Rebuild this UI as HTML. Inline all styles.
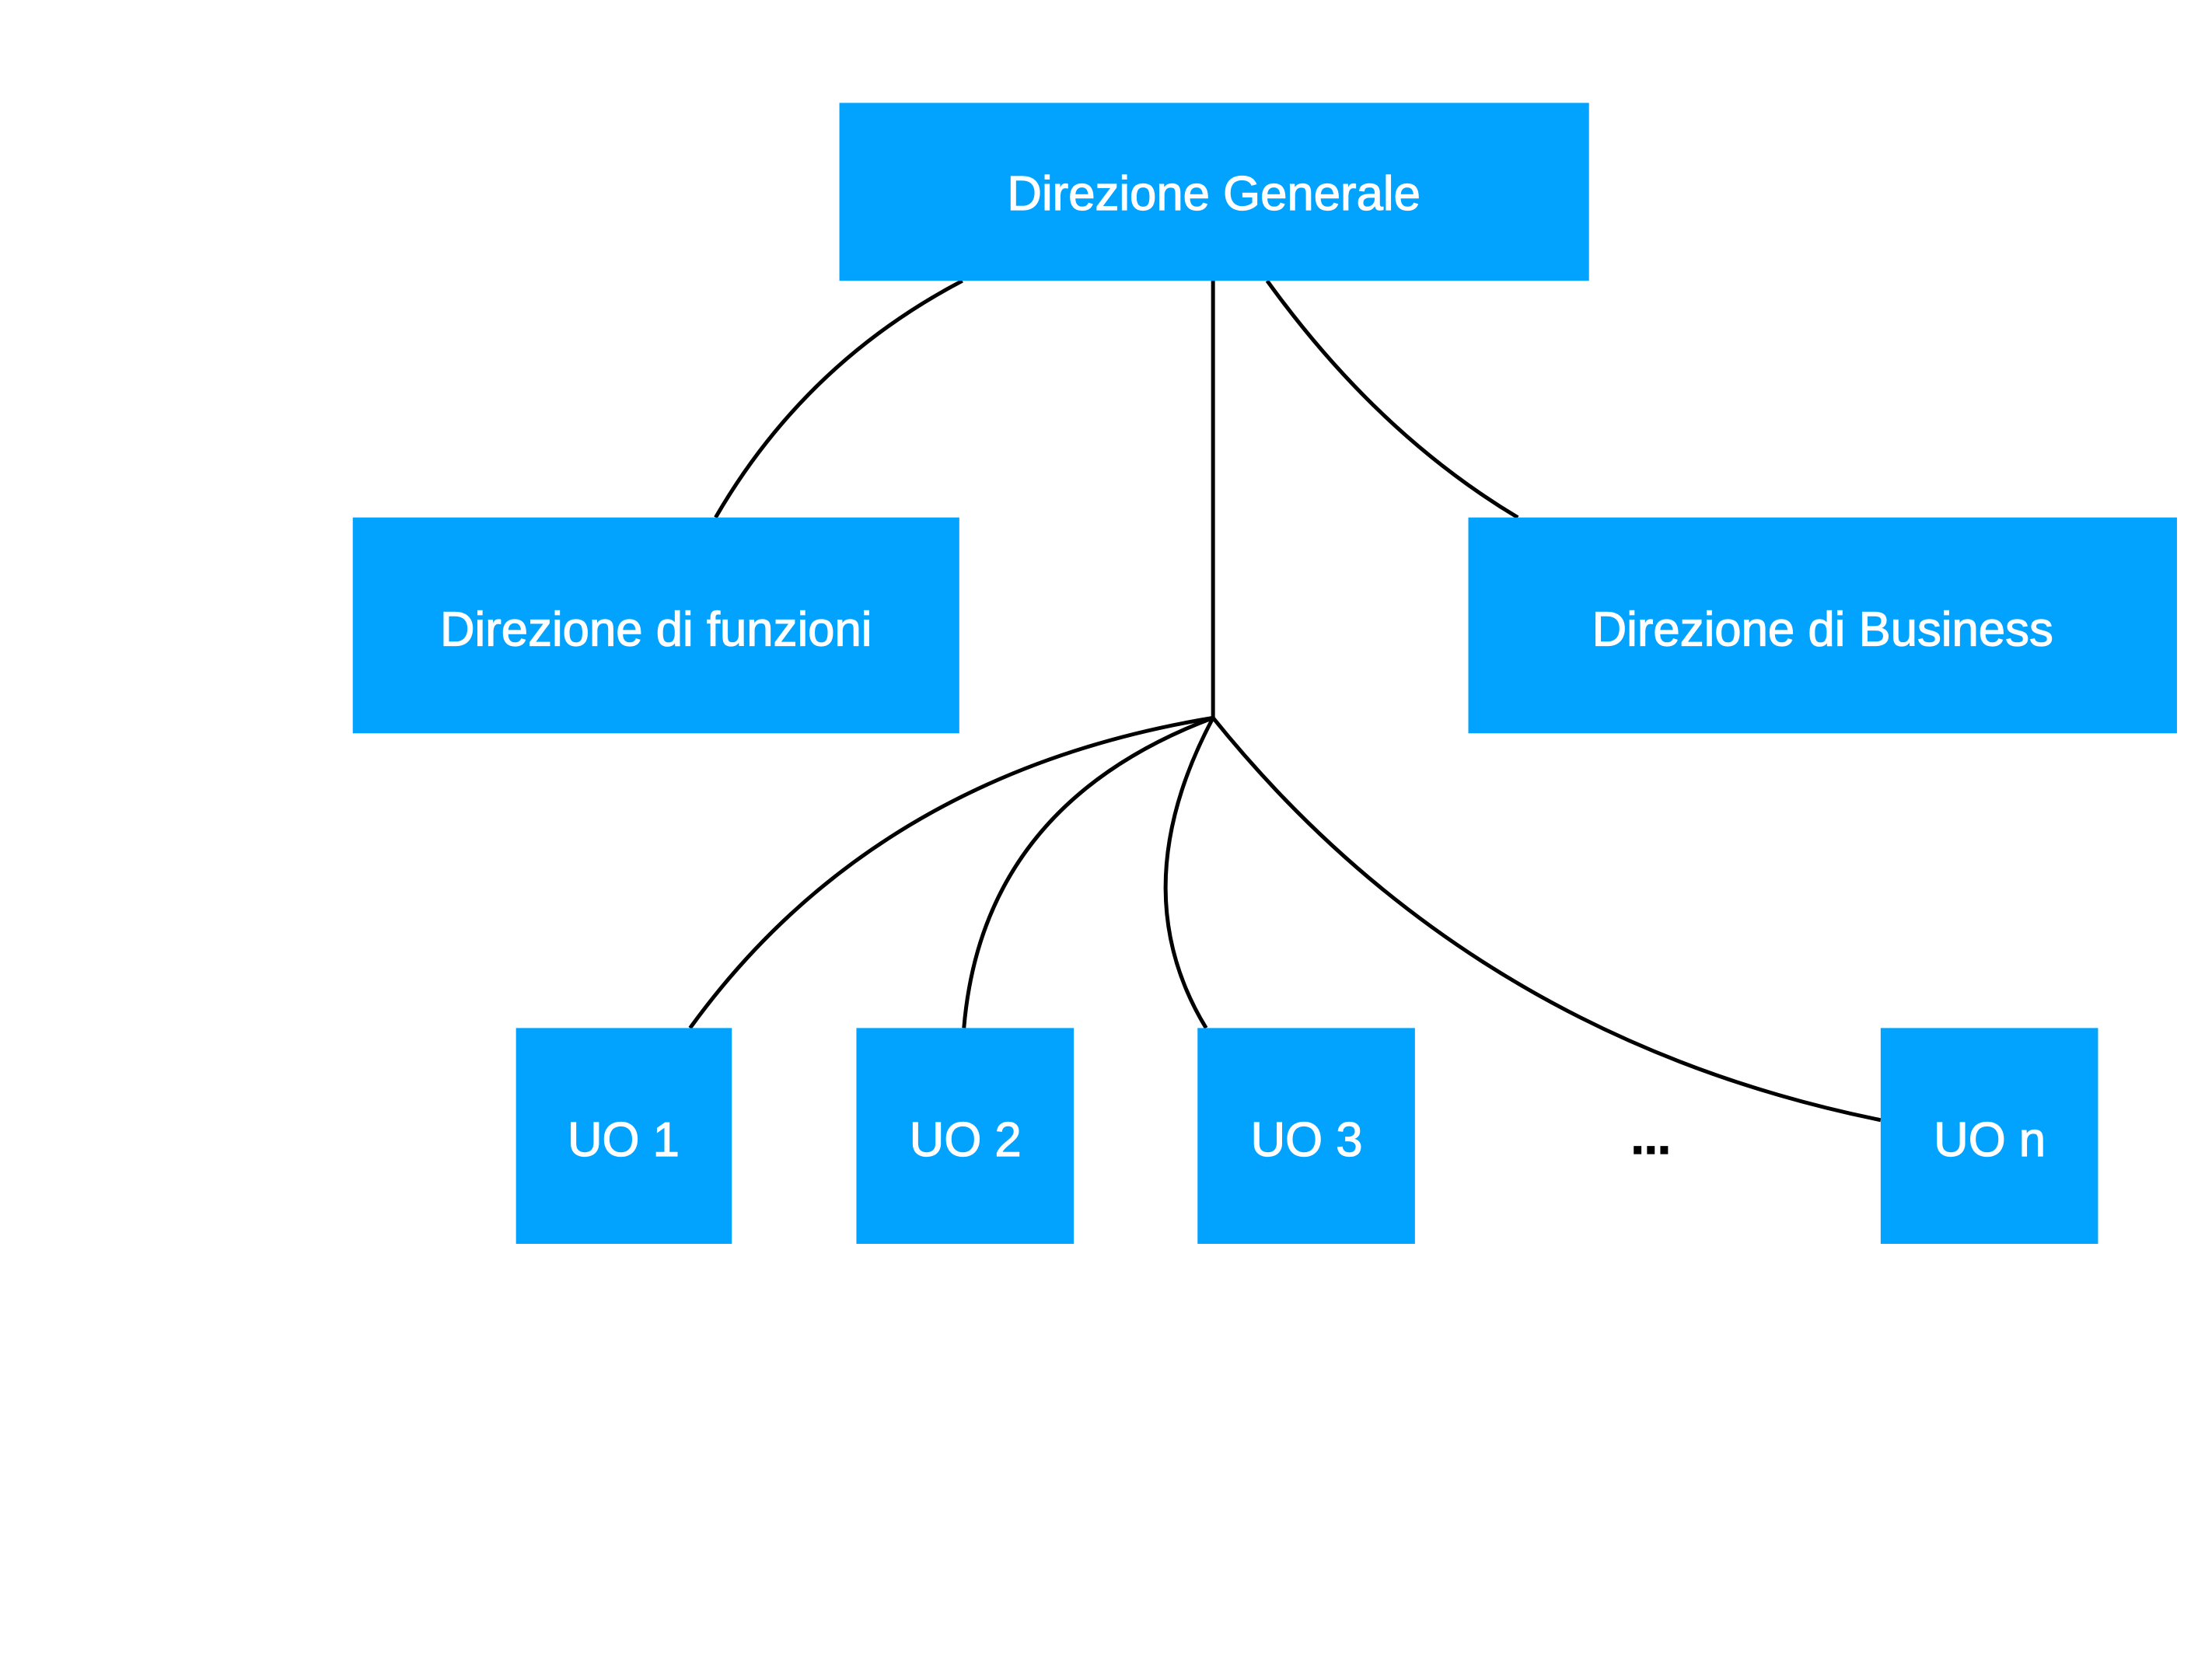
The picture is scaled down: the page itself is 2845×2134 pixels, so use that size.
<!DOCTYPE html>
<html><head><meta charset="utf-8"><style>
html,body{margin:0;padding:0;background:#fff;}
svg{display:block;}
text{font-family:"Liberation Sans",Arial,sans-serif;font-size:62px;fill:#fff;stroke:#fff;stroke-width:1.2;text-anchor:middle;dominant-baseline:central;}
</style></head><body>
<svg width="2845" height="2134" viewBox="0 0 2845 2134" xmlns="http://www.w3.org/2000/svg">
<g transform="scale(0.995)">
<g fill="none" stroke="#000" stroke-width="5">
<path d="M1568 363 L1568 928"/>
<path d="M1244 363 Q1040 470 925 669"/>
<path d="M1638 363 Q1780 560 1962 669"/>
<path d="M1568 928 Q1130 1000 892 1329"/>
<path d="M1568 928 Q1270 1040 1246 1329"/>
<path d="M1568 928 Q1450 1150 1559 1329"/>
<path d="M1568 928 Q1900 1340 2431 1448"/>
</g>
<g fill="#02a2ff">
<rect x="1085" y="133" width="969" height="230"/>
<rect x="456" y="669" width="784" height="279"/>
<rect x="1898" y="669" width="916" height="279"/>
<rect x="667" y="1329" width="279" height="279"/>
<rect x="1107" y="1329" width="281" height="279"/>
<rect x="1548" y="1329" width="281" height="279"/>
<rect x="2431" y="1329" width="281" height="279"/>
</g>
<text x="1569" y="251">Direzione Generale</text>
<text x="848" y="814">Direzione di funzioni</text>
<text x="2356" y="814">Direzione di Business</text>
<text x="806" y="1474">UO 1</text>
<text x="1248" y="1474">UO 2</text>
<text x="1689" y="1474">UO 3</text>
<text x="2572" y="1474">UO n</text>
<text x="2134" y="1471" style="fill:#000;stroke:#000;font-weight:bold">...</text>
</g>
</svg>
</body></html>
